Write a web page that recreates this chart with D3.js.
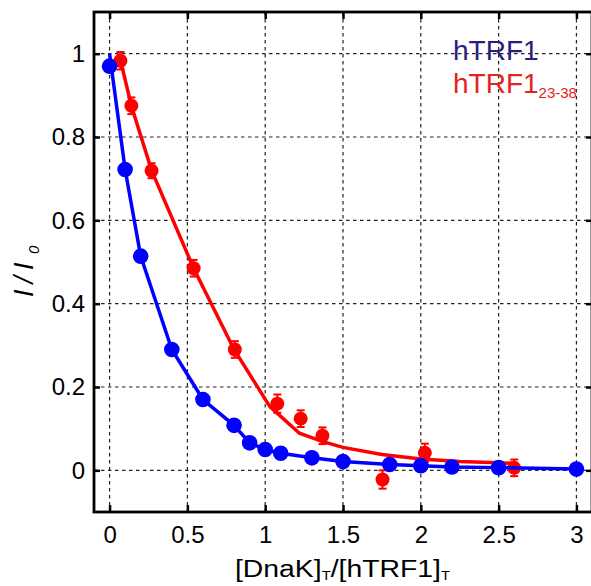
<!DOCTYPE html>
<html>
<head>
<meta charset="utf-8">
<script src="https://cdn.jsdelivr.net/npm/d3@7"></script>
<style>
  body { margin: 0; background: #fff; }
  svg { display: block; font-family: "Liberation Sans", Arial, sans-serif; }
</style>
</head>
<body>
<div id="main"></div>
<script>
// measured points, hTRF1 (blue)
const blueX = [0, 0.1, 0.2, 0.4, 0.6, 0.8, 0.9, 1.0, 1.1, 1.3, 1.5, 1.8, 2.0, 2.2, 2.5, 3.0]
const blueY = [0.97, 0.722, 0.514, 0.29, 0.17, 0.108, 0.066, 0.05, 0.041, 0.03, 0.021, 0.014, 0.011, 0.008, 0.0065, 0.003]
const blueFitY = [1.0, 0.722, 0.514, 0.29, 0.17, 0.108, 0.066, 0.05, 0.041, 0.03, 0.021, 0.014, 0.011, 0.008, 0.0065, 0.003]

// measured points, hTRF1 23-38 (red)
const redX = [0.07, 0.14, 0.27, 0.54, 0.805, 1.078, 1.228, 1.368, 1.754, 2.026, 2.6]
const redY = [0.983, 0.875, 0.719, 0.485, 0.29, 0.16, 0.124, 0.083, -0.022, 0.042, 0.006]
const redErr = [0.021, 0.02, 0.018, 0.02, 0.02, 0.022, 0.02, 0.02, 0.022, 0.022, 0.02]
const redFitX = [0.06, 0.14, 0.27, 0.54, 0.8, 1.03, 1.22, 1.37, 1.5, 1.75, 2.0, 2.25, 2.5, 2.6]
const redFitY = [1.0, 0.875, 0.72, 0.485, 0.29, 0.153, 0.089, 0.069, 0.055, 0.038, 0.027, 0.021, 0.018, 0.017]

const xTicks = [0, 0.5, 1, 1.5, 2, 2.5, 3]
const yTicks = [0, 0.2, 0.4, 0.6, 0.8, 1]

const W = 591, H = 586
const pLeft = 94, pRight = 592, pTop = 12, pBottom = 512

let svg = d3.select('div#main').append('svg')
  .attr('width', W)
  .attr('height', H)

const x = d3.scaleLinear().domain([-0.1, 3.1]).range([pLeft, pRight])
const y = d3.scaleLinear().domain([-0.1, 1.1]).range([pBottom, pTop])

// dashed grid
let grid = svg.append('g')
  .attr('stroke', '#222')
  .attr('stroke-width', 1.2)
  .attr('stroke-dasharray', '3.5,3.5')
grid.selectAll('line.gx').data(xTicks).enter().append('line')
  .attr('x1', d => x(d)).attr('x2', d => x(d))
  .attr('y1', pTop).attr('y2', pBottom)
grid.selectAll('line.gy').data(yTicks).enter().append('line')
  .attr('y1', d => y(d)).attr('y2', d => y(d))
  .attr('x1', pLeft).attr('x2', pRight)

// axes, ticks pointing inward
const fmt = d => d3.format('')(d)
let xAxis = svg.append('g')
  .attr('transform', `translate(0,${pBottom})`)
  .call(d3.axisBottom(x).tickValues(xTicks).tickSize(-7).tickPadding(14).tickFormat(fmt))
let xTop = svg.append('g')
  .attr('transform', `translate(0,${pTop})`)
  .call(d3.axisTop(x).tickValues(xTicks).tickSize(-7).tickFormat(''))
let yAxis = svg.append('g')
  .attr('transform', `translate(${pLeft},0)`)
  .call(d3.axisLeft(y).tickValues(yTicks).tickSize(-6).tickPadding(9).tickFormat(fmt))
let yRight = svg.append('g')
  .attr('transform', `translate(${pRight},0)`)
  .call(d3.axisRight(y).tickValues(yTicks).tickSize(-6).tickFormat(''))

;[xAxis, xTop, yAxis, yRight].forEach(g => {
  g.select('.domain').remove()
  g.selectAll('.tick line').attr('stroke', '#000').attr('stroke-width', 2.5)
  g.selectAll('.tick text')
    .attr('fill', '#000')
    .attr('font-size', 24)
    .attr('font-family', '"Liberation Sans", Arial, sans-serif')
})

// frame
svg.append('rect')
  .attr('x', pLeft).attr('y', pTop)
  .attr('width', pRight - pLeft).attr('height', pBottom - pTop)
  .attr('fill', 'none')
  .attr('stroke', '#000')
  .attr('stroke-width', 2.8)

let line = d3.line()
  .x(d => x(d[0]))
  .y(d => y(d[1]))
  .curve(d3.curveLinear)

// red series
svg.append('path')
  .attr('d', line(redFitX.map((v, i) => [v, redFitY[i]])))
  .attr('fill', 'none')
  .attr('stroke', '#ff0000')
  .attr('stroke-width', 3.5)

let redPts = redX.map((v, i) => ({x: v, y: redY[i], e: redErr[i]}))
let errG = svg.append('g').attr('stroke', '#ff0000').attr('stroke-width', 2)
errG.selectAll('line.bar').data(redPts).enter().append('line')
  .attr('x1', d => x(d.x)).attr('x2', d => x(d.x))
  .attr('y1', d => y(d.y - d.e)).attr('y2', d => y(d.y + d.e))
errG.selectAll('line.capt').data(redPts).enter().append('line')
  .attr('x1', d => x(d.x) - 4).attr('x2', d => x(d.x) + 4)
  .attr('y1', d => y(d.y + d.e)).attr('y2', d => y(d.y + d.e))
errG.selectAll('line.capb').data(redPts).enter().append('line')
  .attr('x1', d => x(d.x) - 4).attr('x2', d => x(d.x) + 4)
  .attr('y1', d => y(d.y - d.e)).attr('y2', d => y(d.y - d.e))

svg.selectAll('circle.red').data(redPts).enter().append('circle')
  .attr('class', 'red')
  .attr('cx', d => x(d.x))
  .attr('cy', d => y(d.y))
  .attr('r', 7)
  .attr('fill', '#ff0000')

// blue series
svg.append('path')
  .attr('d', line(blueX.map((v, i) => [v, blueFitY[i]])))
  .attr('fill', 'none')
  .attr('stroke', '#0000ff')
  .attr('stroke-width', 3.5)

svg.selectAll('circle.blue').data(blueX.map((v, i) => ({x: v, y: blueY[i]}))).enter().append('circle')
  .attr('class', 'blue')
  .attr('cx', d => x(d.x))
  .attr('cy', d => y(d.y))
  .attr('r', 7.8)
  .attr('fill', '#0000ff')

// legend
svg.append('text')
  .attr('x', 453).attr('y', 60)
  .attr('font-size', 28)
  .attr('fill', '#2b1d7e')
  .text('hTRF1')
let leg2 = svg.append('text')
  .attr('x', 453).attr('y', 93)
  .attr('font-size', 28)
  .attr('fill', '#e42320')
leg2.append('tspan').text('hTRF1')
leg2.append('tspan').attr('font-size', 15).attr('dy', 5).text('23-38')

// axis titles
let xt = svg.append('text')
  .attr('x', 235).attr('y', 577)
  .attr('font-size', 23)
  .attr('fill', '#000')
  .attr('textLength', 215)
  .attr('lengthAdjust', 'spacingAndGlyphs')
xt.append('tspan').text('[DnaK]')
xt.append('tspan').attr('font-size', 12).attr('dy', 3).text('T')
xt.append('tspan').attr('dy', -3).text('/[hTRF1]')
xt.append('tspan').attr('font-size', 12).attr('dy', 3).text('T')

svg.append('text')
  .attr('transform', 'translate(33,297) rotate(-90)')
  .attr('font-size', 27)
  .attr('font-style', 'italic')
  .attr('fill', '#000')
  .attr('letter-spacing', 6)
  .text('I/I')
svg.append('text')
  .attr('transform', 'translate(39,254) rotate(-90)')
  .attr('font-size', 15)
  .attr('font-style', 'italic')
  .attr('fill', '#000')
  .text('0')
</script>
</body>
</html>
